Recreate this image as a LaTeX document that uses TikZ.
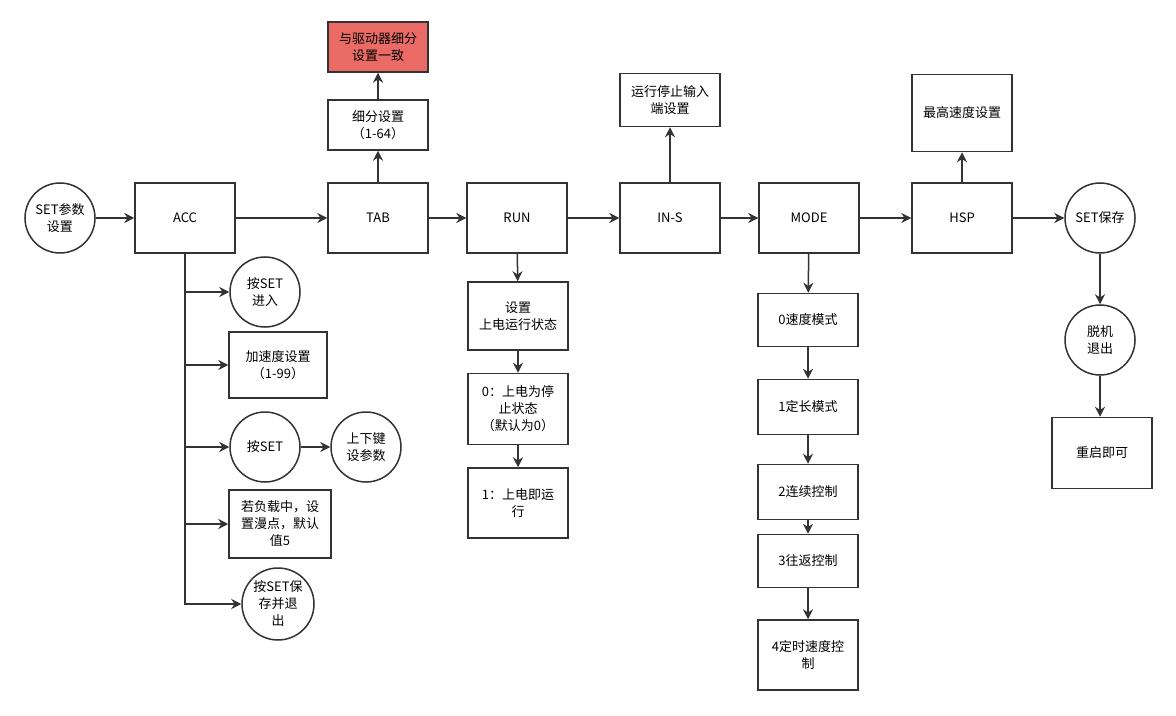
\documentclass[tikz,border=0pt]{standalone}
\usepackage{fontspec}
\setmainfont{Noto Sans CJK SC}
\usetikzlibrary{arrows.meta}
\definecolor{ln}{HTML}{333333}
\tikzset{
  box/.style={draw=ln,line width=0.75pt,fill=white,align=center,inner sep=1pt,
    font=\fontsize{6.5}{8.5}\selectfont,minimum width=50pt,minimum height=#1},
  box/.default=35pt,
  circ/.style={draw=ln,line width=0.75pt,fill=white,circle,align=center,inner sep=0pt,
    font=\fontsize{6.5}{8.5}\selectfont,minimum size=35pt},
  arr/.style={draw=ln,line width=0.75pt,-{Stealth[length=5pt,width=5pt]}}
}
\begin{document}
\begin{tikzpicture}[x=0.5pt,y=-0.5pt]
\useasboundingbox (0,0) rectangle (1176,716);
% main row
\node[circ] (set) at (60,218) {SET参数\\设置};
\node[box] (acc) at (185,218) {ACC};
\node[box] (tab) at (378,218) {TAB};
\node[box] (run) at (517,218) {RUN};
\node[box] (ins) at (670,218) {IN-S};
\node[box] (mode) at (809,218) {MODE};
\node[box] (hsp) at (962,218) {HSP};
\node[circ] (save) at (1100,218) {SET保存};
\draw[arr] (set) -- (acc);
\draw[arr] (acc) -- (tab);
\draw[arr] (tab) -- (run);
\draw[arr] (run) -- (ins);
\draw[arr] (ins) -- (mode);
\draw[arr] (mode) -- (hsp);
\draw[arr] (hsp) -- (save);
% upper boxes
\node[box=25pt] (xifen) at (378,125) {细分设置\\（1-64）};
\node[box=25pt,fill={rgb,255:red,234;green,107;blue,102}] (qudong) at (378,47) {与驱动器细分\\设置一致};
\node[box=26.5pt] (tingzhi) at (670,100) {运行停止输入\\端设置};
\node[box=38.5pt] (zuigao) at (962,113) {最高速度设置};
\draw[arr] (tab) -- (xifen);
\draw[arr] (xifen) -- (qudong);
\draw[arr] (ins.north) -- (tingzhi);
\draw[arr] (hsp) -- (zuigao);
% ACC branch
\node[circ] (jin) at (265,292) {按SET\\进入};
\node[box=33pt,minimum width=49pt] (jiasu) at (278,365) {加速度设置\\（1-99）};
\node[circ] (an) at (265,447) {按SET};
\node[circ] (shangxia) at (366,447) {上下键\\设参数};
\node[box=34pt,minimum width=51pt] (fuzai) at (280,524) {若负载中，设\\置漫点，默认\\值5};
\node[circ,minimum size=36pt] (tui) at (278,604) {按SET保\\存并退\\出};
\coordinate (trunk) at (185,604);
\draw[arr] (acc.south) -- (trunk) -- (tui);
\draw[arr] (acc.south |- jin.west) -- (jin);
\draw[arr] (acc.south |- jiasu.west) -- (jiasu);
\draw[arr] (acc.south |- an.west) -- (an);
\draw[arr] (acc.south |- fuzai.west) -- (fuzai);
\draw[arr] (an) -- (shangxia);
% RUN branch
\node[box=34pt] (shangdian) at (518,316) {设置\\上电运行状态};
\node[box=35.5pt] (ting) at (518,409) {0：上电为停\\止状态\\（默认为0）};
\node[box=35pt] (yunx) at (518,503) {1：上电即运\\行};
\draw[arr] (run) -- (shangdian);
\draw[arr] (shangdian) -- (ting);
\draw[arr] (ting) -- (yunx);
% MODE branch
\node[box=26.5pt] (m0) at (808,320) {0速度模式};
\node[box=27.5pt] (m1) at (808,407) {1定长模式};
\node[box=27.5pt] (m2) at (808,492) {2连续控制};
\node[box=26.5pt] (m3) at (808,561) {3往返控制};
\node[box=35pt] (m4) at (808,655) {4定时速度控\\制};
\draw[arr] (mode) -- (m0);
\draw[arr] (m0) -- (m1);
\draw[arr] (m1) -- (m2);
\draw[arr] (m2) -- (m3);
\draw[arr] (m3) -- (m4);
% save branch
\node[circ] (tuoji) at (1100,340) {脱机\\退出};
\node[box=35.5pt] (chongqi) at (1102,453) {重启即可};
\draw[arr] (save) -- (tuoji);
\draw[arr] (tuoji) -- (tuoji |- chongqi.north);
\end{tikzpicture}
\end{document}
